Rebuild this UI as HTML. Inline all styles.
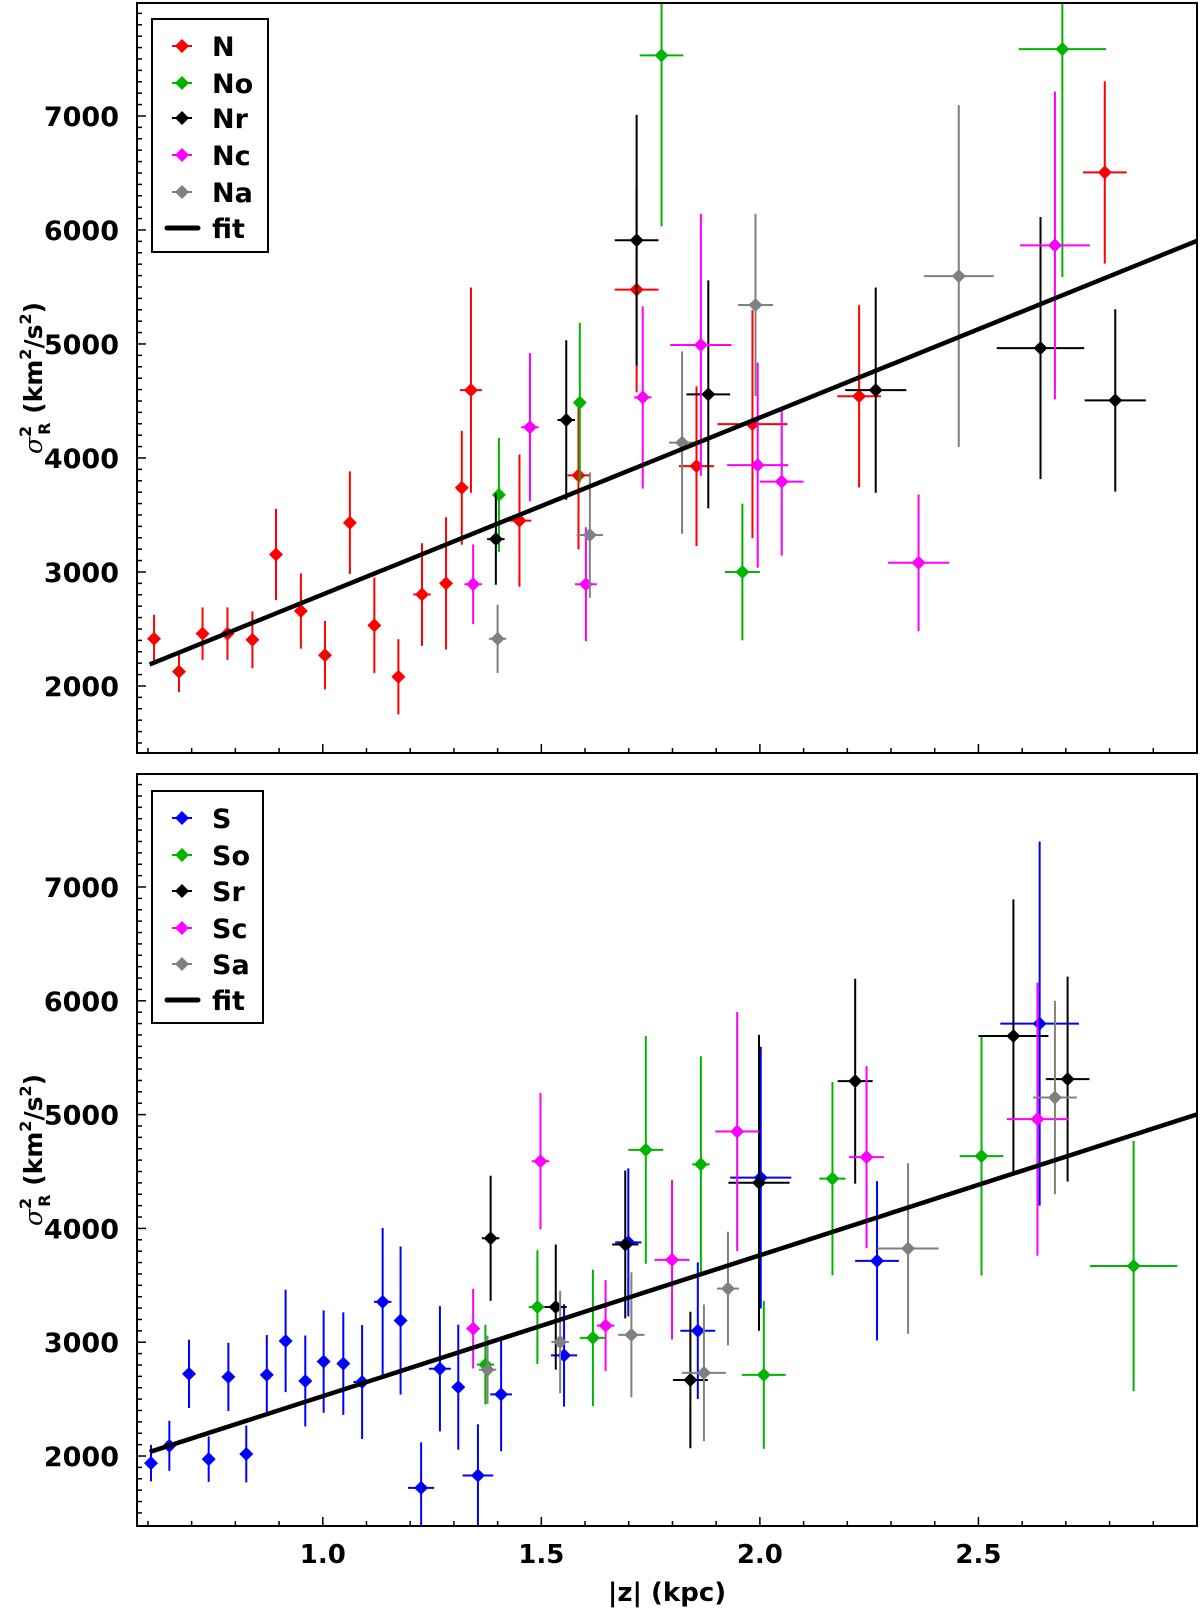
<!DOCTYPE html>
<html><head><meta charset="utf-8">
<style>
html,body{margin:0;padding:0;background:#fff;}
svg{display:block;font-family:"DejaVu Sans","Liberation Sans",sans-serif;}
</style></head>
<body>
<svg id="chart" width="1200" height="1612" viewBox="0 0 1200 1612" xmlns="http://www.w3.org/2000/svg"></svg>
<script>
// ---------- DATA (x=|z| kpc, y=sigma^2, ey=y error, ex=x error) ----------
const N_x  = [0.614,0.671,0.725,0.782,0.839,0.893,0.950,1.005,1.062,1.118,1.173,1.227,1.282,1.318,1.339,1.450,1.585,1.718,1.855,1.983,2.227,2.789];
const N_y  = [2414,2126,2459,2459,2405,3153,2658,2270,3432,2532,2081,2802,2900,3739,4595,3450,3847,5477,3928,4297,4541,6505];
const N_ey = [210,180,230,230,250,400,330,300,450,420,330,450,580,500,900,580,650,900,700,1000,800,800];
const N_ex = [0,0,0,0,0,0,0.01,0,0,0,0,0.02,0.012,0,0.025,0.027,0.025,0.05,0.04,0.08,0.05,0.05];
const No_x  = [1.403,1.588,1.775,1.960,2.692];
const No_y  = [3676,4486,7532,3000,7586];
const No_ey = [500,700,1500,600,2000];
const No_ex = [0.01,0.01,0.05,0.04,0.1];
const Nr_x  = [1.396,1.557,1.718,1.882,2.265,2.642,2.813];
const Nr_y  = [3288,4333,5910,4558,4595,4964,4505];
const Nr_ey = [400,700,1100,1000,900,1150,800];
const Nr_ex = [0.02,0.02,0.05,0.05,0.07,0.1,0.07];
const Nc_x  = [1.344,1.474,1.602,1.732,1.865,1.995,2.050,2.363,2.675];
const Nc_y  = [2892,4270,2892,4531,4991,3937,3793,3081,5865];
const Nc_ey = [350,650,500,800,1150,900,650,600,1350];
const Nc_ex = [0.02,0.02,0.025,0.02,0.07,0.07,0.05,0.07,0.08];
const Na_x  = [1.400,1.611,1.822,1.990,2.455];
const Na_y  = [2414,3324,4135,5342,5595];
const Na_ey = [300,550,800,800,1500];
const Na_ex = [0.02,0.03,0.03,0.04,0.08];
const fitTop = [1252,1551]; // intercept, slope

const S_x  = [0.607,0.649,0.694,0.739,0.784,0.825,0.872,0.915,0.960,1.002,1.047,1.090,1.137,1.178,1.225,1.268,1.310,1.355,1.408,1.552,1.699,1.858,2.002,2.268,2.640];
const S_y  = [1937,2090,2722,1973,2695,2018,2713,3011,2659,2830,2812,2650,3354,3191,1720,2767,2605,1829,2542,2884,3877,3101,4446,3715,5800];
const S_ey = [160,220,300,200,300,250,350,450,400,450,450,500,650,650,400,550,550,450,500,450,650,600,1150,700,1600];
const S_ex = [0,0,0,0,0,0,0,0,0,0,0,0.02,0.02,0,0.03,0.025,0,0.035,0.025,0.03,0.03,0.04,0.07,0.05,0.09];
const So_x  = [1.372,1.491,1.618,1.739,1.865,2.009,2.166,2.507,2.855];
const So_y  = [2803,3309,3038,4690,4563,2713,4437,4635,3670];
const So_ey = [350,500,600,1000,950,650,850,1050,1100];
const So_ex = [0.02,0.02,0.03,0.04,0.02,0.05,0.03,0.05,0.1];
const Sr_x  = [1.384,1.533,1.692,1.841,1.998,2.218,2.580,2.704];
const Sr_y  = [3913,3309,3859,2668,4401,5294,5691,5312];
const Sr_ey = [550,550,650,600,1300,900,1200,900];
const Sr_ex = [0.02,0.025,0.03,0.04,0.07,0.04,0.08,0.05];
const Sc_x  = [1.344,1.498,1.647,1.799,1.948,2.244,2.635];
const Sc_y  = [3119,4590,3146,3724,4852,4626,4960];
const Sc_ey = [350,600,400,700,1050,800,1200];
const Sc_ex = [0.015,0.02,0.02,0.04,0.05,0.04,0.07];
const Sa_x  = [1.377,1.543,1.706,1.872,1.927,2.339,2.675];
const Sa_y  = [2758,3002,3065,2731,3471,3823,5150];
const Sa_ey = [300,450,550,600,500,750,850];
const Sa_ex = [0.02,0.02,0.03,0.05,0.025,0.07,0.05];
const fitBot = [1288,1238];

const xTicks = [1.0,1.5,2.0,2.5];
const xTickLabels = ["1.0","1.5","2.0","2.5"];
const yTicks = [2000,3000,4000,5000,6000,7000];
const yTickLabels = ["2000","3000","4000","5000","6000","7000"];

// ---------- DRAWING ----------
const NS="http://www.w3.org/2000/svg";
const svg=document.getElementById('chart');
const X0=137,X1=1197,XMIN=0.575,XMAX=3.0;
const MS=7;
function xs(v){return X0+(v-XMIN)/(XMAX-XMIN)*(X1-X0);}
function mk(tag,attrs,parent){const e=document.createElementNS(NS,tag);for(const k in attrs)e.setAttribute(k,attrs[k]);(parent||svg).appendChild(e);return e;}

function panel(name,top,bot,ymin,ymax,series,fit,legendBox,legendYs,showX){
  const g=mk('g',{});
  
  
  const ys=v=>bot-(v-ymin)/(ymax-ymin)*(bot-top);
  const tg=mk('g',{stroke:'#000','stroke-width':1.5},g);
  
  
  for(let t=0.6;t<=2.95;t+=0.1){const tv=Math.round(t*10)/10;const major=Math.abs(tv*2-Math.round(tv*2))<1e-6;
    mk('line',{x1:xs(tv),x2:xs(tv),y1:bot,y2:bot-(major?9:5)},tg);}
  for(let v=1500;v<ymax;v+=100){const major=v%1000===0;
    mk('line',{x1:X0,x2:X0+(major?9:5),y1:ys(v),y2:ys(v)},tg);}
  yTicks.forEach((v,i)=>{const t=mk('text',{x:119,y:ys(v)+10,'text-anchor':'end','font-size':27,'font-weight':'bold'},g);t.textContent=yTickLabels[i];
    
    });
  if(showX){xTicks.forEach((v,i)=>{const t=mk('text',{x:xs(v),y:bot+37,'text-anchor':'middle','font-size':26,'font-weight':'bold'},g);t.textContent=xTickLabels[i];
    
    });}
  const yt=mk('text',{transform:`translate(42,${(top+bot)/2}) rotate(-90)`,'text-anchor':'middle','font-size':25,'font-weight':'bold'},g);
  
  
  yt.innerHTML='<tspan font-style="italic" font-family="DejaVu Serif, serif" font-weight="normal">σ</tspan><tspan font-size="16" dy="-11">2</tspan><tspan font-size="16" dy="19" dx="-9">R</tspan><tspan dy="-8"> (km</tspan><tspan font-size="16" dy="-11">2</tspan><tspan dy="11">/s</tspan><tspan font-size="16" dy="-11">2</tspan><tspan dy="11">)</tspan>';
  const cid='clip-'+name;
  const cp=mk('clipPath',{id:cid},g);mk('rect',{x:X0,y:top,width:X1-X0,height:bot-top},cp);
  const dg=mk('g',{'clip-path':`url(#${cid})`},g);
  series.forEach(s=>{
    const sg=mk('g',{stroke:s.c,fill:s.c,'stroke-width':2},dg);
    
    
    s.x.forEach((xv,i)=>{
      const cx=xs(xv),cy=ys(s.y[i]);
      const l1=mk('line',{x1:cx,x2:cx,y1:ys(s.y[i]-s.ey[i]),y2:ys(s.y[i]+s.ey[i])},sg);
      
      
      const hx=Math.max(s.ex[i],0.012);
      mk('line',{x1:xs(xv-hx),x2:xs(xv+hx),y1:cy,y2:cy},sg);
      const p=mk('path',{d:`M${cx-MS} ${cy}L${cx} ${cy-MS}L${cx+MS} ${cy}L${cx} ${cy+MS}Z`,stroke:'none'},sg);
      
      
    });
  });
  const fx0=0.604,fx1=3.0;
  const fl=mk('line',{x1:xs(fx0),y1:ys(fit[0]+fit[1]*fx0),x2:xs(fx1),y2:ys(fit[0]+fit[1]*fx1),stroke:'#000','stroke-width':4.5},dg);
  
  
  const fr=mk('rect',{x:X0,y:top,width:X1-X0,height:bot-top,fill:'none',stroke:'#000','stroke-width':2},g);
  
  
  const lg=mk('g',{},g);
  
  
  mk('rect',{x:legendBox[0],y:legendBox[1],width:legendBox[2],height:legendBox[3],fill:'#fff',stroke:'#000','stroke-width':2},lg);
  const items=series.concat([{n:'fit',c:'#000',fit:true}]);
  items.forEach((s,i)=>{
    const y=legendYs[i];const cx=legendBox[0]+30;
    const eg=mk('g',{},lg);
    
    
    if(s.fit){mk('line',{x1:cx-15,x2:cx+16,y1:y,y2:y,stroke:'#000','stroke-width':5,'stroke-linecap':'round'},eg);}
    else{mk('line',{x1:cx-10,x2:cx+10,y1:y,y2:y,stroke:s.c,'stroke-width':2},eg);
      mk('path',{d:`M${cx-MS} ${y}L${cx} ${y-MS}L${cx+MS} ${y}L${cx} ${y+MS}Z`,fill:s.c},eg);}
    const t=mk('text',{x:legendBox[0]+60,y:y+10,'font-size':27,'font-weight':'bold'},eg);t.textContent=s.n;
  });
}

panel('top-panel',3,753,1412,7991,[
 {n:'N',c:'#ff0000',x:N_x,y:N_y,ey:N_ey,ex:N_ex},
 {n:'No',c:'#00b400',x:No_x,y:No_y,ey:No_ey,ex:No_ex},
 {n:'Nr',c:'#000000',x:Nr_x,y:Nr_y,ey:Nr_ey,ex:Nr_ex},
 {n:'Nc',c:'#ff00ff',x:Nc_x,y:Nc_y,ey:Nc_ey,ex:Nc_ex},
 {n:'Na',c:'#808080',x:Na_x,y:Na_y,ey:Na_ey,ex:Na_ex}],fitTop,[152,19,116,233],[46,83,118,155,192,228],false);
panel('bottom-panel',774,1526,1385,7993,[
 {n:'S',c:'#0000ff',x:S_x,y:S_y,ey:S_ey,ex:S_ex},
 {n:'So',c:'#00b400',x:So_x,y:So_y,ey:So_ey,ex:So_ex},
 {n:'Sr',c:'#000000',x:Sr_x,y:Sr_y,ey:Sr_ey,ex:Sr_ex},
 {n:'Sc',c:'#ff00ff',x:Sc_x,y:Sc_y,ey:Sc_ey,ex:Sc_ex},
 {n:'Sa',c:'#808080',x:Sa_x,y:Sa_y,ey:Sa_ey,ex:Sa_ex}],fitBot,[152,791,111,232],[818,855,891,928,964,1000],true);

const xt=mk('text',{x:(X0+X1)/2,y:1601,'text-anchor':'middle','font-size':26,'font-weight':'bold'});
xt.textContent='|z| (kpc)';


</script>
</body></html>
